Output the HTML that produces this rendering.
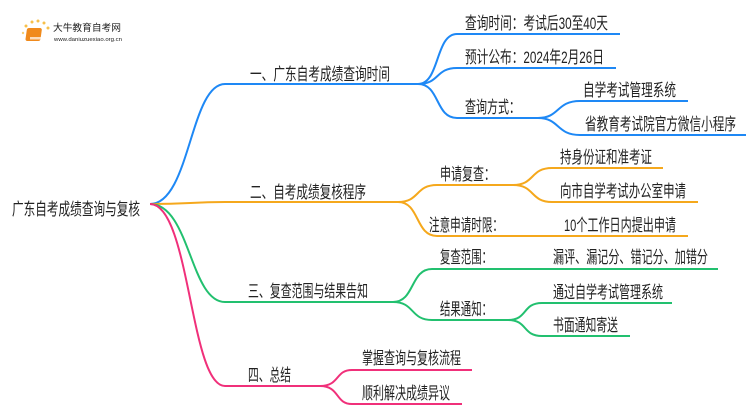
<!DOCTYPE html>
<html><head><meta charset="utf-8"><style>
html,body{margin:0;padding:0;background:#fff;}
svg text{font-family:"Liberation Sans","Noto Sans CJK SC",sans-serif;fill:#222;}
</style></head><body>
<svg width="750" height="410" viewBox="0 0 750 410" xmlns="http://www.w3.org/2000/svg">
<g fill="none" stroke-width="2">
<g stroke="#1e88f5">
<path d="M150,204 C190,204 190,84 225,84 L420,84"/>
<path d="M418,84 C440,84 435,34 457,34 L620,34"/>
<path d="M418,84 C440,84 435,68 457,68 L616,68"/>
<path d="M418,84 C440,84 435,118 457,118 L540,118"/>
<path d="M538,118 C560,118 556,101 580,101 L688,101"/>
<path d="M538,118 C560,118 556,135 580,135 L746,135"/>
</g>
<g stroke="#f5a81c">
<path d="M150,204 C190,204 190,202 225,202 L400,202"/>
<path d="M398,202 C420,202 415,185 437,185 L515,185"/>
<path d="M398,202 C420,202 415,236 437,236 L688,236"/>
<path d="M513,185 C535,185 530,168 552,168 L663,168"/>
<path d="M513,185 C535,185 530,202 552,202 L698,202"/>
</g>
<g stroke="#22c06f">
<path d="M150,204 C190,204 190,302 225,302 L395,302"/>
<path d="M393,302 C415,302 410,269 432,269 L718,269"/>
<path d="M393,302 C415,302 410,320 432,320 L510,320"/>
<path d="M508,320 C528,320 522,303 542,303 L672,303"/>
<path d="M508,320 C528,320 522,336 542,336 L630,336"/>
</g>
<g stroke="#f0307a">
<path d="M150,204 C190,204 190,386 225,386 L322,386"/>
<path d="M320,386 C340,386 335,370 352,370 L472,370"/>
<path d="M320,386 C340,386 335,404 352,404 L462,404"/>
</g>
</g>
<g>
<circle cx="32" cy="22" r="1.5" fill="#f7c04a"/><circle cx="38" cy="21" r="1.5" fill="#f7c04a"/><circle cx="44" cy="23" r="1.5" fill="#f7c04a"/><circle cx="26" cy="26" r="1.5" fill="#f7c04a"/><circle cx="48" cy="28" r="1.5" fill="#f7c04a"/><circle cx="23" cy="33" r="1.2" fill="#f7d07a"/>
<rect x="31" y="28" width="15" height="13" rx="2" fill="#f08a1c" transform="skewX(-8)"/>
<rect x="30" y="37" width="13" height="2.5" fill="#fff" opacity=".7"/>
<text x="53" y="31" font-size="9.5" fill="#333" textLength="68" lengthAdjust="spacingAndGlyphs">大牛教育自考网</text>
<text x="54" y="41" font-size="5" fill="#666" textLength="68" lengthAdjust="spacingAndGlyphs">www.daniuzuexiao.org.cn</text>
</g>
<g font-size="17">
<text x="12" y="215" textLength="128" lengthAdjust="spacingAndGlyphs">广东自考成绩查询与复核</text>
<text x="250" y="80" textLength="140" lengthAdjust="spacingAndGlyphs">一、广东自考成绩查询时间</text>
<text x="465" y="29" textLength="143" lengthAdjust="spacingAndGlyphs">查询时间：考试后30至40天</text>
<text x="465" y="63" textLength="139" lengthAdjust="spacingAndGlyphs">预计公布：2024年2月26日</text>
<text x="465" y="113" textLength="55" lengthAdjust="spacingAndGlyphs">查询方式：</text>
<text x="583" y="96" textLength="93" lengthAdjust="spacingAndGlyphs">自学考试管理系统</text>
<text x="585" y="130" textLength="151" lengthAdjust="spacingAndGlyphs">省教育考试院官方微信小程序</text>
<text x="250" y="198" textLength="116" lengthAdjust="spacingAndGlyphs">二、自考成绩复核程序</text>
<text x="440" y="180" textLength="55" lengthAdjust="spacingAndGlyphs">申请复查：</text>
<text x="560" y="163" textLength="92" lengthAdjust="spacingAndGlyphs">持身份证和准考证</text>
<text x="560" y="197" textLength="126" lengthAdjust="spacingAndGlyphs">向市自学考试办公室申请</text>
<text x="429" y="231" textLength="74" lengthAdjust="spacingAndGlyphs">注意申请时限：</text>
<text x="564" y="231" textLength="112" lengthAdjust="spacingAndGlyphs">10个工作日内提出申请</text>
<text x="248" y="297" textLength="120" lengthAdjust="spacingAndGlyphs">三、复查范围与结果告知</text>
<text x="440" y="263" textLength="52" lengthAdjust="spacingAndGlyphs">复查范围：</text>
<text x="553" y="263" textLength="155" lengthAdjust="spacingAndGlyphs">漏评、漏记分、错记分、加错分</text>
<text x="440" y="315" textLength="52" lengthAdjust="spacingAndGlyphs">结果通知：</text>
<text x="553" y="298" textLength="110" lengthAdjust="spacingAndGlyphs">通过自学考试管理系统</text>
<text x="553" y="331" textLength="65" lengthAdjust="spacingAndGlyphs">书面通知寄送</text>
<text x="248" y="381" textLength="43" lengthAdjust="spacingAndGlyphs">四、总结</text>
<text x="362" y="364" textLength="99" lengthAdjust="spacingAndGlyphs">掌握查询与复核流程</text>
<text x="362" y="399" textLength="88" lengthAdjust="spacingAndGlyphs">顺利解决成绩异议</text>
</g>
</svg>
</body></html>
